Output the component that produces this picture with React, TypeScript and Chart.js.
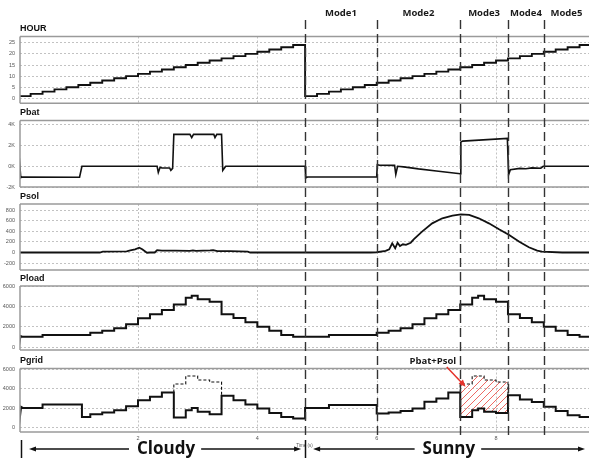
import React, { useEffect, useRef } from "react";
import { Chart, registerables } from "chart.js";

Chart.register(...registerables);

// ---------- time base ----------
const HOUR_S = 0.2; // one simulated hour = 0.2 s
const DAY_S = 4.8; // one simulated day
const X_MIN = 0.022;
const X_MAX = 9.558;

const xTicks = [2, 4, 6, 8];
const xTickLabels = ["2", "4", "6", "8"];

// ---------- HOUR ----------
const clockHours = [0, 1, 2, 3, 4, 5, 6, 7, 8, 9, 10, 11, 12, 13, 14, 15, 16, 17, 18, 19, 20, 21, 22, 23];
const hourValues = [1, 2, 3, 4, 5, 6, 7, 8, 9, 10, 11, 12, 13, 14, 15, 16, 17, 18, 19, 20, 21, 22, 23, 24];
const hourTicks = [0, 5, 10, 15, 20, 25];

// ---------- Pbat (time s, W) ----------
const batT = [0, 0.01, 0.035, 0.06, 1.02, 1.06, 2.32, 2.34, 2.37, 2.4,
  2.53, 2.55, 2.58, 2.6, 2.87, 2.9, 2.93, 3.27, 3.29, 3.32,
  3.4, 3.42, 3.47, 4.8, 4.81, 4.84, 6.0, 6.01, 6.05, 6.3,
  6.32, 6.35, 6.45, 6.7, 7.0, 7.4, 7.41, 7.44, 8.19, 8.21,
  8.24, 8.4, 8.5, 8.6, 8.75, 8.79, 9.6];
const batV = [0, 800, -1100, -1040, -1060, 0, 0, -590, -100, -160,
  -160, -390, -200, 3090, 3090, 2770, 3090, 3090, 2770, 3090,
  3090, -390, 0, 0, -1130, -1040, -1040, 160, 100, 90,
  -780, 0, -50, -250, -450, -720, 2340, 2440, 2700, -810,
  -320, -200, -230, -150, -180, 0, 0];
const batTicks = [-2000, 0, 2000, 4000];
const batTickLabels = ["-2K", "0K", "2K", "4K"];

// ---------- Psol (time s, W) ----------
const solT = [0, 1.36, 1.41, 1.81, 1.87, 1.95, 2.02, 2.07, 2.15, 2.2,
  2.28, 2.32, 2.4, 2.62, 2.87, 2.92, 2.97, 3.21, 3.26, 3.33,
  3.54, 3.84, 3.88, 5.9, 6.0, 6.15, 6.21, 6.26, 6.31, 6.35,
  6.39, 6.44, 6.49, 6.57, 6.62, 6.76, 6.93, 7.1, 7.27, 7.41,
  7.55, 7.71, 7.88, 8.05, 8.22, 8.39, 8.55, 8.69, 8.77, 9.11, 9.6];
const solV = [0, 0, 15, 20, 40, 60, 90, 60, -5, 0,
  0, 45, 35, 35, 30, 40, 30, 40, 45, 25,
  25, 15, 0, 0, 5, 30, 60, 174, 79, 185,
  123, 155, 145, 185, 249, 393, 550, 645, 695, 720,
  708, 645, 550, 437, 330, 204, 98, 35, 16, 0, 0];
const solTicks = [-200, 0, 200, 400, 600, 800];

// ---------- Pload (hour of day, W) ----------
const loadStartT = [0, 0.03];
const loadStartV = [0, 1100];
const loadHours = [0, 2, 6, 7, 8, 9, 10, 11, 12, 13, 14, 14.5, 15, 16, 17, 18, 19, 20, 21, 22, 23];
const loadValues = [1040, 1200, 1430, 1620, 1860, 2250, 2840, 3230, 3650, 4200, 4860, 5050, 4700, 4460, 3230, 2880, 2450, 2020, 1620, 1200, 1040];
const loadTicks = [0, 2000, 4000, 6000];

// ---------- Pgrid (hour of day, W) ----------
const gridStartT = [0, 0.04];
const gridStartV = [0, 2150];
const gridHours1 = [0, 2, 5.3, 6, 7, 8, 9, 10, 11, 12, 13, 14, 14.5, 15, 16, 17, 18, 19, 20, 21, 22, 23];
const gridValues1 = [2045, 2390, 1125, 1400, 1570, 1810, 2220, 2830, 3170, 3620, 1060, 1810, 2045, 1640, 1400, 3270, 2830, 2390, 1980, 1535, 1125, 960];
const gridHours2 = [0, 2, 6, 7, 8, 9, 10, 11, 12, 13, 14, 14.5, 15, 16, 17, 18, 19, 20, 21, 22, 23];
const gridValues2 = [2045, 2350, 1470, 1570, 1740, 1980, 2660, 3000, 3620, 1125, 1810, 1980, 1640, 1535, 3330, 2900, 2650, 2150, 1740, 1300, 1125];
// Pgrid + Pbat + Psol (dashed)
const dashHours = [13, 14, 15, 16];
const dashValues = [4470, 5290, 4880, 4670];
const gridTicks = [0, 2000, 4000, 6000];

// ---------- annotations ----------
const modeStarts = [4.8, 6.0, 7.4, 8.2, 8.8];
const modeLabels = ["Mode1", "Mode2", "Mode3", "Mode4", "Mode5"];
const weatherLabels = ["Cloudy", "Sunny"];
const weatherStarts = [0, 4.8];
const weatherCenters = [2.47, 7.21];
const annoLabel = "Pbat+Psol";
const annoT = 6.94;
const annoTipT = 7.49;
const annoTipV = 4200;

const panelIds = ["yHour", "yBat", "ySol", "yLoad", "yGrid"];
const panelTitles = ["HOUR", "Pbat", "Psol", "Pload", "Pgrid"];

type P = { x: number; y: number };
function steps(day: number, hours: number[], vals: number[], from?: number, end = 24): P[] {
  const pts: P[] = [];
  const base = day * DAY_S;
  for (let i = 0; i < hours.length; i++) {
    const h0 = i === 0 && from !== undefined ? from : hours[i];
    const h1 = i + 1 < hours.length ? hours[i + 1] : end;
    pts.push({ x: base + h0 * HOUR_S, y: vals[i] }, { x: base + h1 * HOUR_S, y: vals[i] });
  }
  return pts;
}
function pairs(ts: number[], vs: number[]): P[] {
  return ts.map((t, i) => ({ x: t, y: vs[i] }));
}

function arrow(ctx: CanvasRenderingContext2D, x1: number, y1: number, x2: number, y2: number, head = 7, half = 2.6) {
  const a = Math.atan2(y2 - y1, x2 - x1);
  ctx.beginPath();
  ctx.moveTo(x1, y1);
  ctx.lineTo(x2 - Math.cos(a) * head * 0.8, y2 - Math.sin(a) * head * 0.8);
  ctx.stroke();
  ctx.beginPath();
  ctx.moveTo(x2, y2);
  ctx.lineTo(x2 - Math.cos(a) * head - Math.sin(a) * half, y2 - Math.sin(a) * head + Math.cos(a) * half);
  ctx.lineTo(x2 - Math.cos(a) * head + Math.sin(a) * half, y2 - Math.sin(a) * head - Math.cos(a) * half);
  ctx.closePath();
  ctx.fill();
}

const zeroPad = (s: any) => {
  s.paddingTop = 0;
  s.paddingBottom = 0;
  s.paddingLeft = 0;
  s.paddingRight = 0;
};

const decorPlugin = {
  id: "decor",
  beforeDatasetsDraw(chart: any) {
    const ctx: CanvasRenderingContext2D = chart.ctx;
    const xs = chart.scales.x;
    ctx.save();
    ctx.strokeStyle = "#c2c2c2";
    ctx.lineWidth = 1;
    ctx.setLineDash([2, 2]);
    for (const id of panelIds) {
      const s = chart.scales[id];
      for (const t of xTicks) {
        const px = Math.round(xs.getPixelForValue(t)) + 0.5;
        ctx.beginPath();
        ctx.moveTo(px, s.top);
        ctx.lineTo(px, s.bottom);
        ctx.stroke();
      }
    }
    ctx.restore();
  },
  afterDatasetsDraw(chart: any) {
    const ctx: CanvasRenderingContext2D = chart.ctx;
    const ca = chart.chartArea;
    const xs = chart.scales.x;
    ctx.save();
    // panel frames
    ctx.setLineDash([]);
    ctx.strokeStyle = "#9a9a9a";
    ctx.lineWidth = 1.5;
    panelIds.forEach((id) => {
      const s = chart.scales[id];
      ctx.beginPath();
      ctx.moveTo(ca.left, s.top);
      ctx.lineTo(ca.right, s.top);
      ctx.moveTo(ca.left, s.bottom);
      ctx.lineTo(ca.right, s.bottom);
      ctx.moveTo(ca.left, s.top);
      ctx.lineTo(ca.left, s.bottom);
      ctx.stroke();
    });
    // panel titles
    ctx.fillStyle = "#111";
    ctx.font = 'bold 9px "Liberation Sans", Arial, sans-serif';
    ctx.textAlign = "left";
    ctx.textBaseline = "middle";
    panelIds.forEach((id, i) => {
      const s = chart.scales[id];
      ctx.fillText(panelTitles[i], ca.left, s.top - 7.5);
    });
    // mode boundaries
    ctx.strokeStyle = "#333";
    ctx.lineWidth = 1.4;
    ctx.setLineDash([9, 5]);
    modeStarts.forEach((t) => {
      const px = Math.round(xs.getPixelForValue(t)) + 0.5;
      ctx.beginPath();
      ctx.moveTo(px, 20);
      ctx.lineTo(px, 437);
      ctx.stroke();
    });
    ctx.setLineDash([]);
    ctx.fillStyle = "#1a1a1a";
    ctx.font = 'bold 9.5px "Open Sans", sans-serif';
    ctx.textAlign = "center";
    modeStarts.forEach((t, i) => {
      const t2 = i + 1 < modeStarts.length ? modeStarts[i + 1] : X_MAX;
      const cx = (xs.getPixelForValue(t) + xs.getPixelForValue(t2)) / 2;
      ctx.fillText(modeLabels[i], cx, 13);
    });
    // weather spans
    const wy = 449;
    ctx.strokeStyle = "#111";
    ctx.fillStyle = "#111";
    ctx.lineWidth = 1.3;
    ctx.font = 'bold 17px "Open Sans", sans-serif';
    weatherLabels.forEach((lab, i) => {
      const startPx = Math.max(ca.left + 1, xs.getPixelForValue(weatherStarts[i]));
      const endPx = i + 1 < weatherStarts.length ? xs.getPixelForValue(weatherStarts[i + 1]) : ca.right;
      const cx = xs.getPixelForValue(weatherCenters[i]);
      const w = ctx.measureText(lab).width;
      ctx.textAlign = "center";
      ctx.fillText(lab, cx, wy);
      ctx.lineWidth = 1.5;
      ctx.beginPath();
      ctx.moveTo(Math.round(startPx) + 0.5, 440);
      ctx.lineTo(Math.round(startPx) + 0.5, 458);
      ctx.stroke();
      ctx.lineWidth = 1.3;
      arrow(ctx, cx - w / 2 - 8, wy, startPx + 8, wy);
      arrow(ctx, cx + w / 2 + 6, wy, endPx - 4, wy);
    });
    // Pbat+Psol annotation
    const yg = chart.scales.yGrid;
    const lx = xs.getPixelForValue(annoT);
    const ly = yg.top - 7;
    ctx.fillStyle = "#1a1a1a";
    ctx.font = 'bold 9.5px "Open Sans", sans-serif';
    ctx.textAlign = "center";
    ctx.fillText(annoLabel, lx, ly);
    ctx.strokeStyle = "#e5322b";
    ctx.fillStyle = "#e5322b";
    ctx.lineWidth = 1.5;
    arrow(ctx, lx + 14, ly + 5.5, xs.getPixelForValue(annoTipT), yg.getPixelForValue(annoTipV), 7, 3);
    ctx.restore();
  },
};

function yAxis(weight: number, stackWeight: number, opts: any) {
  return {
    type: "linear",
    axis: "y",
    position: "left",
    stack: "panels",
    stackWeight,
    weight,
    afterFit: (s: any) => {
      s.width = 20;
      zeroPad(s);
    },
    ...opts,
  };
}

function panelAxis(weight: number, stackWeight: number, min: number, max: number, ticks: number[], labels?: string[]) {
  return yAxis(weight, stackWeight, {
    min,
    max,
    afterBuildTicks: (s: any) => {
      s.ticks = ticks.map((v) => ({ value: v }));
    },
    grid: { display: true, color: "#c2c2c2", lineWidth: 1, drawTicks: false },
    border: { display: false, dash: [2, 2] },
    ticks: {
      autoSkip: false,
      padding: 5,
      color: "#555",
      font: { size: 5.5, family: '"Liberation Sans", Arial, sans-serif' },
      callback: (_v: any, i: number) => (labels ? labels[i] : String(ticks[i])),
    },
  });
}

function spacer(weight: number, stackWeight: number) {
  return yAxis(weight, stackWeight, {
    min: 0,
    max: 1,
    grid: { display: false, drawTicks: false },
    border: { display: false },
    ticks: { display: false },
  });
}

export default function App() {
  const ref = useRef<HTMLCanvasElement | null>(null);

  useEffect(() => {
    if (!ref.current) return;
    // hatch pattern
    const pc = document.createElement("canvas");
    pc.width = 7;
    pc.height = 7;
    const p = pc.getContext("2d")!;
    p.strokeStyle = "#ee6a64";
    p.lineWidth = 1;
    p.beginPath();
    p.moveTo(0, 7);
    p.lineTo(7, 0);
    p.moveTo(-1, 1);
    p.lineTo(1, -1);
    p.moveTo(6, 8);
    p.lineTo(8, 6);
    p.stroke();
    const pattern = ref.current.getContext("2d")!.createPattern(pc, "repeat");

    const i12a = gridHours1.indexOf(12), i17a = gridHours1.indexOf(17);
    const i12b = gridHours2.indexOf(12), i13b = gridHours2.indexOf(13), i17b = gridHours2.indexOf(17);

    const hourData = [...steps(0, clockHours, hourValues), ...steps(1, clockHours, hourValues)];
    const loadData = [...pairs(loadStartT, loadStartV), ...steps(0, loadHours, loadValues, 0.3), ...steps(1, loadHours, loadValues)];
    const gridData = [...pairs(gridStartT, gridStartV), ...steps(0, gridHours1, gridValues1, 0.35), ...steps(1, gridHours2, gridValues2)];
    const dash1 = [
      { x: dashHours[0] * HOUR_S, y: gridValues1[i12a] },
      ...steps(0, dashHours, dashValues, undefined, 17),
      { x: 17 * HOUR_S, y: gridValues1[i17a] },
    ];
    const dash2 = [
      { x: DAY_S + dashHours[0] * HOUR_S, y: gridValues2[i12b] },
      ...steps(1, dashHours, dashValues, undefined, 17),
      { x: DAY_S + 17 * HOUR_S, y: gridValues2[i17b] },
    ];
    const hatchBottom = steps(1, gridHours2.slice(i13b, i17b), gridValues2.slice(i13b, i17b), undefined, 17);
    const hatchTop = steps(1, dashHours, dashValues, undefined, 17);

    const line = (data: P[], yAxisID: string, w = 1.8, extra: any = {}) => ({
      data,
      yAxisID,
      borderColor: "#111",
      borderWidth: w,
      pointRadius: 0,
      tension: 0,
      fill: false,
      ...extra,
    });

    const chart = new Chart(ref.current, {
      type: "line",
      data: {
        datasets: [
          line(hourData, "yHour", 1.9),
          line(pairs(batT, batV), "yBat", 1.6),
          line(pairs(solT, solV), "ySol", 1.8),
          line(loadData, "yLoad", 2),
          line(gridData, "yGrid", 2),
          line(dash1, "yGrid", 1.1, { borderDash: [3, 2] }),
          line(dash2, "yGrid", 1.1, { borderDash: [3, 2] }),
          line(hatchBottom, "yGrid", 0, { borderColor: "rgba(0,0,0,0)" }),
          line(hatchTop, "yGrid", 0, {
            borderColor: "rgba(0,0,0,0)",
            backgroundColor: pattern,
            fill: { target: 7 },
          }),
        ] as any,
      },
      options: {
        responsive: false,
        maintainAspectRatio: false,
        animation: false,
        devicePixelRatio: 1,
        events: [],
        layout: { autoPadding: false, padding: { top: 0, left: 0, right: 0, bottom: 11 } },
        plugins: { legend: { display: false }, tooltip: { enabled: false } },
        scales: {
          x: {
            type: "linear",
            min: X_MIN,
            max: X_MAX,
            afterBuildTicks: (s: any) => {
              s.ticks = xTicks.map((v) => ({ value: v }));
            },
            afterFit: (s: any) => {
              s.height = 16;
              zeroPad(s);
            },
            grid: { display: false, drawTicks: false },
            border: { display: false },
            ticks: {
              autoSkip: false,
              maxRotation: 0,
              padding: 3,
              color: "#555",
              font: { size: 5.5, family: '"Liberation Sans", Arial, sans-serif' },
              callback: (_v: any, i: number) => xTickLabels[i],
            },
            title: {
              display: true,
              text: "Time (s)",
              color: "#555",
              padding: 0,
              font: { size: 4.5, family: '"Liberation Sans", Arial, sans-serif' },
            },
          },
          s0: spacer(10, 36.5),
          yHour: panelAxis(9, 66.8, -2.25, 27.84, hourTicks),
          s1: spacer(8, 17.2),
          yBat: panelAxis(7, 66.5, -2000, 4430, batTicks, batTickLabels),
          s2: spacer(6, 17),
          ySol: panelAxis(5, 66, -330, 915, solTicks),
          s3: spacer(4, 16),
          yLoad: panelAxis(3, 64, -264, 6000, loadTicks),
          s4: spacer(2, 18.5),
          yGrid: panelAxis(1, 63.5, -409, 6051, gridTicks),
        } as any,
      },
      plugins: [decorPlugin],
    });
    return () => chart.destroy();
  }, []);

  return (
    <div style={{ position: "fixed", left: 0, top: 0, width: 589, height: 459, background: "#fff" }}>
      <canvas ref={ref} width={589} height={459} style={{ display: "block" }} />
    </div>
  );
}
